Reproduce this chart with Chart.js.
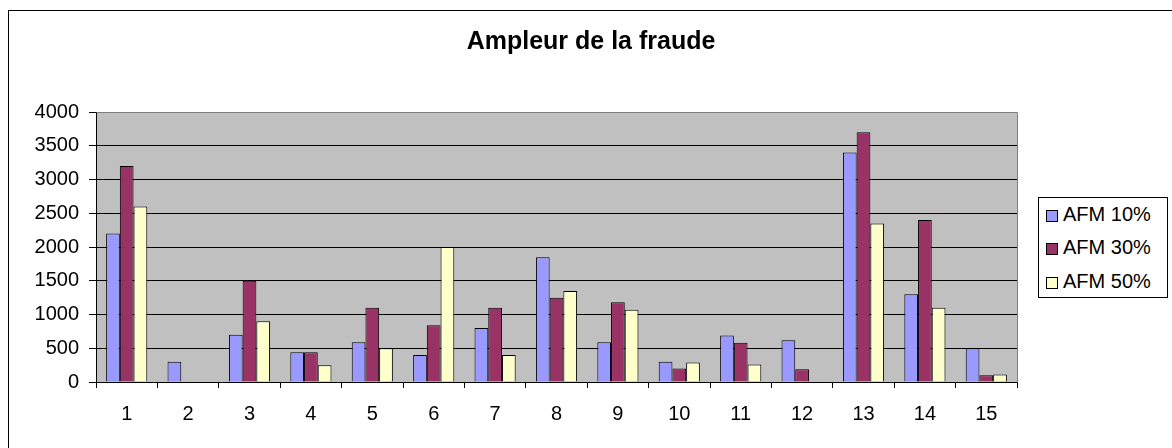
<!DOCTYPE html>
<html>
<head>
<meta charset="utf-8">
<title>Ampleur de la fraude</title>
<script src="https://cdn.jsdelivr.net/npm/chart.js@4.4.0/dist/chart.umd.min.js"></script>
<style>
    html, body { margin: 0; padding: 0; background: #fff; overflow: hidden; }
    #wrap { position: relative; width: 1172px; height: 448px; font-family: Arial, "Liberation Sans", sans-serif; }
    #frame { position: absolute; left: 8px; top: 10px; width: 1180px; height: 460px; border: 1px solid #000; box-sizing: border-box; }
    #chart { position: absolute; left: 0; top: 0; }
    #title { position: absolute; left: 8px; width: 1166px; top: 28px; text-align: center; font-weight: bold; font-size: 25px; line-height: 25px; color: #000; }
    #legend { position: absolute; left: 1038px; top: 197px; width: 130px; height: 101px; border: 1px solid #000; box-sizing: border-box; background: #fff; }
    .item { position: absolute; left: 7px; height: 20px; font-size: 20px; line-height: 20px; white-space: nowrap; color: #000; }
    .swatch { display: inline-block; width: 12px; height: 12px; border: 1px solid #000; box-sizing: border-box; margin-right: 5px; vertical-align: -1px; }
</style>
</head>
<body>
<div id="wrap">
    <div id="frame"></div>
    <canvas id="chart" width="1172" height="448"></canvas>
    <div id="title">Ampleur de la fraude</div>
    <div id="legend"></div>
</div>
<script>
// categories and series
const categories = ['1', '2', '3', '4', '5', '6', '7', '8', '9', '10', '11', '12', '13', '14', '15'];
const seriesNames = ['AFM 10%', 'AFM 30%', 'AFM 50%'];
const afm10 = [2200, 300, 700, 440, 590, 400, 800, 1850, 590, 300, 690, 620, 3400, 1300, 500];
const afm30 = [3200, 0, 1500, 440, 1100, 840, 1100, 1250, 1180, 200, 580, 190, 3700, 2400, 100];
const afm50 = [2600, 0, 900, 250, 500, 2000, 400, 1350, 1070, 290, 260, 0, 2350, 1100, 110];
const seriesColors = ['#9999FF', '#993366', '#FFFFCC'];
const yMax = 4000;
const yStep = 500;

const FONT = 'Arial, "Liberation Sans", sans-serif';

// grey plot area like Excel
const plotArea = {
    id: 'plotArea',
    beforeDraw(chart) {
        const { ctx, chartArea: a } = chart;
        ctx.save();
        ctx.fillStyle = '#C0C0C0';
        ctx.fillRect(a.left, a.top, a.right - a.left, a.bottom - a.top);
        ctx.restore();
    },
    afterDraw(chart) {
        const { ctx, chartArea: a } = chart;
        ctx.save();
        ctx.strokeStyle = '#808080';
        ctx.lineWidth = 1;
        ctx.beginPath();
        ctx.moveTo(Math.round(a.left) + 0.5, Math.round(a.top) + 0.5);
        ctx.lineTo(Math.round(a.right) + 0.5, Math.round(a.top) + 0.5);
        ctx.lineTo(Math.round(a.right) + 0.5, Math.round(a.bottom) + 0.5);
        ctx.stroke();
        ctx.restore();
    }
};

const seriesData = [afm10, afm30, afm50];
const datasets = seriesNames.map((name, i) => ({
    label: name,
    data: seriesData[i],
    backgroundColor: seriesColors[i],
    borderColor: '#000',
    borderWidth: 1,
    categoryPercentage: 0.67,
    barPercentage: 1.0
}));

new Chart(document.getElementById('chart'), {
    type: 'bar',
    data: { labels: categories, datasets },
    plugins: [plotArea],
    options: {
        responsive: false,
        animation: false,
        events: [],
        layout: { padding: { left: 0, right: 155, top: 112, bottom: 0 } },
        plugins: {
            legend: { display: false },
            title: { display: false },
            tooltip: { enabled: false }
        },
        scales: {
            x: {
                grid: { offset: true, drawOnChartArea: false, tickLength: 6, color: '#000' },
                border: { color: '#000' },
                ticks: { color: '#000', font: { family: FONT, size: 20 }, padding: 14, maxRotation: 0 },
                afterFit(scale) { scale.height = 66; }
            },
            y: {
                min: 0,
                max: yMax,
                grid: { color: '#000', tickLength: 7 },
                border: { color: '#000' },
                ticks: {
                    stepSize: yStep,
                    color: '#000',
                    font: { family: FONT, size: 20 },
                    padding: 10,
                    callback: value => String(value)
                },
                afterFit(scale) { scale.width = 96; }
            }
        }
    }
});

// legend built from the same arrays
const legend = document.getElementById('legend');
const rowTops = [6, 39, 73];
seriesNames.forEach((name, i) => {
    const row = document.createElement('div');
    row.className = 'item';
    row.style.top = rowTops[i] + 'px';
    const sw = document.createElement('span');
    sw.className = 'swatch';
    sw.style.background = seriesColors[i];
    row.appendChild(sw);
    row.appendChild(document.createTextNode(name));
    legend.appendChild(row);
});
</script>
</body>
</html>
